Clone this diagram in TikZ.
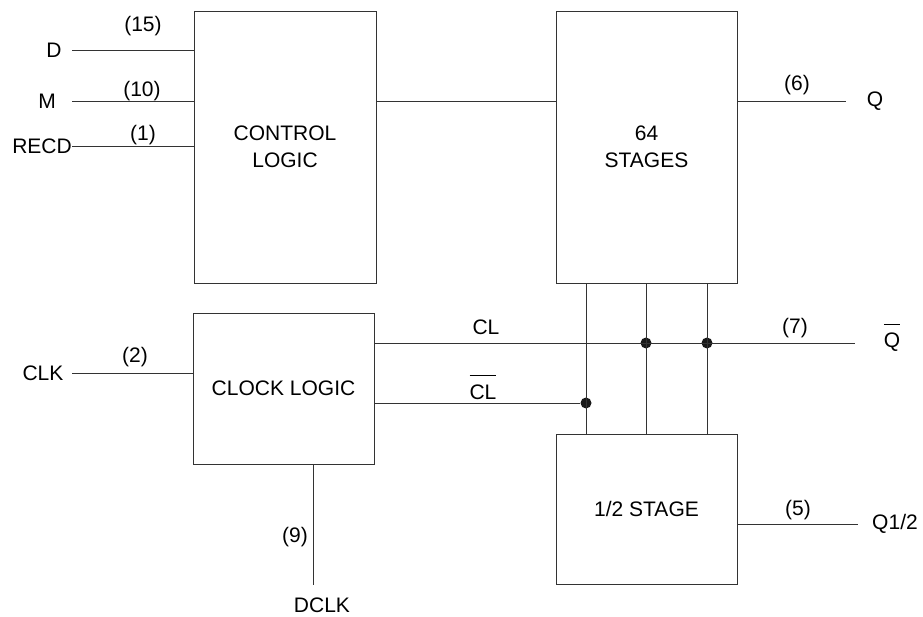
\documentclass[tikz,border=0pt]{standalone}
\usepackage{fontspec}
\setmainfont{Liberation Sans}
\usepackage{tikz}
\tikzset{
	block/.style={draw=black!80,line width=0.9pt,align=center,inner sep=0pt},
	wire/.style={draw=black!80,line width=0.9pt},
	tag/.style={inner sep=0pt},
	junction/.style={circle,fill=black!90,inner sep=0pt,minimum size=11pt}
}
\usetikzlibrary{calc}
\newcommand{\ovbar}[1]{\vbox{\hrule height 0.9pt\kern 8pt\hbox{#1}}}

\begin{document}
\begin{tikzpicture}[x=1pt,y=-1pt,font=\fontsize{21}{27.5}\selectfont]
\useasboundingbox (0,0) rectangle (923,617);
% blocks
\node[block,minimum width=182pt,minimum height=272pt] (ctrl) at (285,147) {CONTROL\\LOGIC};
\node[block,minimum width=181pt,minimum height=272pt] (stages) at (646.5,147) {64\\STAGES};
\node[block,minimum width=181pt,minimum height=151pt] (clk) at (283.5,388.5) {CLOCK LOGIC};
\node[block,minimum width=181pt,minimum height=150pt] (half) at (646.5,509) {1/2 STAGE};
%
\node[junction] (j1) at (586,403) {};
\node[junction] (j2) at (646,343) {};
\node[junction] (j3) at (707,343) {};
% free ends
\coordinate (d0) at (72,50);
\coordinate (m0) at (72,101);
\coordinate (r0) at (72,146);
\coordinate (c0) at (72,373);
\coordinate (q0) at (846,101);
\coordinate (qb0) at (855,343);
\coordinate (h0) at (858,524);
\coordinate (dk0) at (313,585);
% signal names
\node[tag] (D) at (54,50) {D};
\node[tag] (M) at (47,101) {M};
\node[tag,anchor=east] (RECD) at (r0) {RECD};
\node[tag] (CLK) at (43,373) {CLK};
\node[tag] (Q) at (875,101) {Q};
\node[tag,anchor=base] (Qb) at (892,348) {\ovbar{Q}};
\node[tag] (Qh) at (895,524) {Q1/2};
\node[tag] (DCLK) at (322,605) {DCLK};
\node[tag] (CL) at (486,327) {CL};
\node[tag,anchor=base] (CLb) at (483,399) {\ovbar{CL}};
% pin numbers
\node[tag] (p15) at (143,26) {(15)};
\node[tag] (p10) at (142,91) {(10)};
\node[tag] (p1) at (143,135) {(1)};
\node[tag] (p2) at (135,357) {(2)};
\node[tag] (p9) at (295,537) {(9)};
\node[tag] (p6) at (797,85) {(6)};
\node[tag] (p7) at (795,328) {(7)};
\node[tag] (p5) at (798,510) {(5)};
% wires
\draw[wire] (d0) -- (d0 -| ctrl.west);
\draw[wire] (m0) -- (m0 -| ctrl.west);
\draw[wire] (r0) -- (r0 -| ctrl.west);
\draw[wire] (ctrl.east |- q0) -- (stages.west |- q0);
\draw[wire] (stages.east |- q0) -- (q0);
\draw[wire] (c0) -- (c0 -| clk.west);
\draw[wire] (clk.east |- j2) -- (qb0);
\draw[wire] (clk.east |- j1) -- (j1);
\draw[wire] (stages.south -| j1) -- (half.north -| j1);
\draw[wire] (stages.south -| j2) -- (half.north -| j2);
\draw[wire] (stages.south -| j3) -- (half.north -| j3);
\draw[wire] (half.east |- h0) -- (h0);
\draw[wire] (clk.south -| dk0) -- (dk0);
\end{tikzpicture}
\end{document}
